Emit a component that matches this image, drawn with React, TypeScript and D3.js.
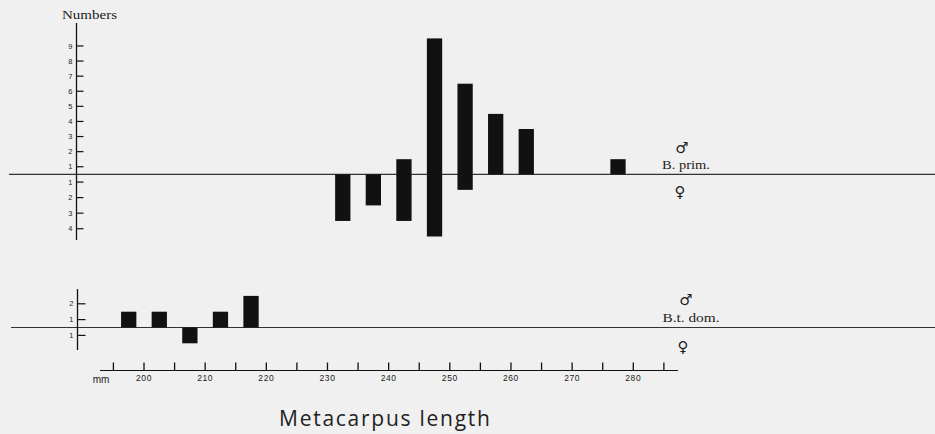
import React from "react";
import * as d3 from "d3";

// ---- data ----
const upperBins = [232.5, 237.5, 242.5, 247.5, 252.5, 257.5, 262.5, 277.5];
const upperMale = [0, 0, 1, 9, 6, 4, 3, 1];
const upperFemale = [3, 2, 3, 4, 1, 0, 0, 0];
const upperMaleTicks = [1, 2, 3, 4, 5, 6, 7, 8, 9];
const upperFemaleTicks = [1, 2, 3, 4];

const lowerBins = [197.5, 202.5, 207.5, 212.5, 217.5];
const lowerMale = [1, 1, 0, 1, 2];
const lowerFemale = [0, 0, 1, 0, 0];
const lowerMaleTicks = [1, 2];
const lowerFemaleTicks = [1];

const xTickValues = d3.range(195, 290, 5);
const xLabelValues = [200, 210, 220, 230, 240, 250, 260, 270, 280];

const W = 935;
const H = 434;
const BG = "#f0f0f0";
const INK = "#111";

export default function App() {
  const x = d3.scaleLinear().domain([200, 280]).range([144, 633.3]);
  const half = 1.25;

  const upperBase = 174.3;
  const yU = d3
    .scaleLinear()
    .domain([-4, 0, 9])
    .range([upperBase + 4 * 15.55, upperBase, upperBase - 9 * 15.1]);

  const lowerBase = 327.5;
  const lUnit = 15.8;
  const yL = d3.scaleLinear().domain([0, 1]).range([lowerBase, lowerBase - lUnit]);

  const axisX = 76.5;
  const lowerAxisX = 77.5;
  const xAxisY = 370.5;

  const bars = (
    bins: number[],
    male: number[],
    female: number[],
    y: d3.ScaleLinear<number, number>
  ) =>
    bins.map((c, i) => {
      const top = y(male[i]);
      const bottom = y(-female[i]);
      if (male[i] === 0 && female[i] === 0) return null;
      return (
        <rect
          key={"b" + c}
          x={x(c - half)}
          width={x(c + half) - x(c - half)}
          y={top}
          height={bottom - top}
          fill={INK}
        />
      );
    });

  const yTicks = (
    ticksM: number[],
    ticksF: number[],
    y: d3.ScaleLinear<number, number>,
    ax: number,
    len: number
  ) => (
    <g>
      {ticksM.map((k) => (
        <g key={"m" + k}>
          <line x1={ax} x2={ax + len} y1={y(k - 0.5)} y2={y(k - 0.5)} stroke={INK} strokeWidth={1.2} />
          <text x={ax - 4} y={y(k - 0.5)} dy="0.35em" textAnchor="end" fontSize={7.5}
            fontFamily="'Liberation Sans', Arial, sans-serif" fill="#222">{k}</text>
        </g>
      ))}
      {ticksF.map((k) => (
        <g key={"f" + k}>
          <line x1={ax} x2={ax + len} y1={y(-(k - 0.5))} y2={y(-(k - 0.5))} stroke={INK} strokeWidth={1.2} />
          <text x={ax - 4} y={y(-(k - 0.5))} dy="0.35em" textAnchor="end" fontSize={7.5}
            fontFamily="'Liberation Sans', Arial, sans-serif" fill="#222">{k}</text>
        </g>
      ))}
    </g>
  );

  return (
    <svg
      width={W}
      height={H}
      style={{ position: "fixed", left: 0, top: 0, background: BG }}
    >
      <rect x={0} y={0} width={W} height={H} fill={BG} />

      {/* Upper chart */}
      <text x={89.5} y={19} textAnchor="middle" fontSize={12}
        fontFamily="'Liberation Serif', 'Times New Roman', serif" fill="#222"
        textLength={55} lengthAdjust="spacingAndGlyphs">Numbers</text>
      <line x1={9} x2={W} y1={upperBase} y2={upperBase} stroke="#333" strokeWidth={1.2} />
      <line x1={axisX} x2={axisX} y1={23} y2={240} stroke={INK} strokeWidth={1.3} />
      {yTicks(upperMaleTicks, upperFemaleTicks, yU, axisX, 7)}
      {bars(upperBins, upperMale, upperFemale, yU)}

      <text x={682} y={153} textAnchor="middle" fontSize={15}
        fontFamily="'DejaVu Sans', sans-serif" fill="#222">♂</text>
      <text x={686} y={169} textAnchor="middle" fontSize={12}
        fontFamily="'Liberation Serif', serif" fill="#222"
        textLength={48} lengthAdjust="spacingAndGlyphs">B. prim.</text>
      <text x={680} y={197} textAnchor="middle" fontSize={15}
        fontFamily="'DejaVu Sans', sans-serif" fill="#222">♀</text>

      {/* Lower chart */}
      <line x1={11} x2={W} y1={lowerBase} y2={lowerBase} stroke="#333" strokeWidth={1.2} />
      <line x1={lowerAxisX} x2={lowerAxisX} y1={289} y2={350} stroke={INK} strokeWidth={1.3} />
      {yTicks(lowerMaleTicks, lowerFemaleTicks, yL, lowerAxisX, 8)}
      {bars(lowerBins, lowerMale, lowerFemale, yL)}

      <text x={686} y={305} textAnchor="middle" fontSize={15}
        fontFamily="'DejaVu Sans', sans-serif" fill="#222">♂</text>
      <text x={691} y={322} textAnchor="middle" fontSize={12}
        fontFamily="'Liberation Serif', serif" fill="#222"
        textLength={57} lengthAdjust="spacingAndGlyphs">B.t. dom.</text>
      <text x={683} y={352} textAnchor="middle" fontSize={15}
        fontFamily="'DejaVu Sans', sans-serif" fill="#222">♀</text>

      {/* X axis */}
      <line x1={100} x2={678} y1={xAxisY} y2={xAxisY} stroke={INK} strokeWidth={1.2} />
      {xTickValues.map((v) => (
        <line key={"t" + v} x1={x(v)} x2={x(v)} y1={xAxisY - 8} y2={xAxisY} stroke={INK} strokeWidth={1.3} />
      ))}
      {xLabelValues.map((v) => (
        <text key={"l" + v} x={x(v)} y={380.5} textAnchor="middle" fontSize={8.5}
          letterSpacing={0.6} fontFamily="'Liberation Sans', Arial, sans-serif" fill="#222">{v}</text>
      ))}
      <text x={101} y={383} textAnchor="middle" fontSize={10}
        fontFamily="'Liberation Sans', Arial, sans-serif" fill="#222">mm</text>

      <text x={384.5} y={426} textAnchor="middle" fontSize={21}
        fontFamily="'Open Sans', 'Noto Sans', sans-serif" fill="#222"
        textLength={211} lengthAdjust="spacing">Metacarpus length</text>
    </svg>
  );
}
